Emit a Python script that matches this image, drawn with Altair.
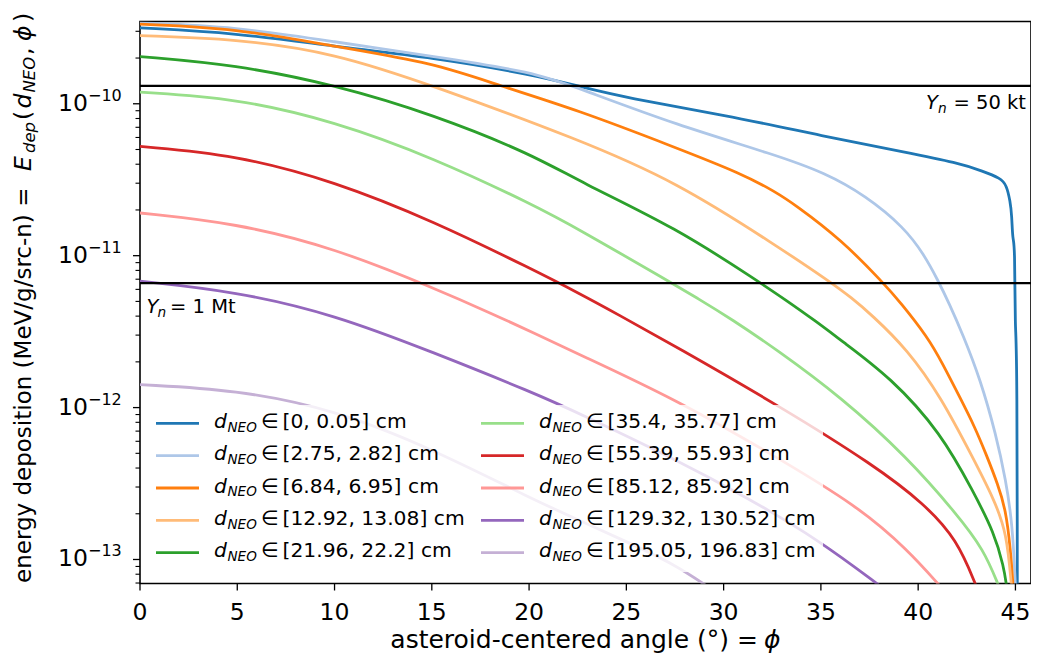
import altair as alt
import pandas as pd

FONT = "DejaVu Sans"

# ---------------- data ----------------
bin_labels = ["[0, 0.05]", "[2.75, 2.82]", "[6.84, 6.95]", "[12.92, 13.08]", "[21.96, 22.2]",
              "[35.4, 35.77]", "[55.39, 55.93]", "[85.12, 85.92]", "[129.32, 130.52]", "[195.05, 196.83]"]
colors = ["#1f77b4", "#aec7e8", "#ff7f0e", "#ffbb78", "#2ca02c",
          "#98df8a", "#d62728", "#ff9896", "#9467bd", "#c5b0d5"]

# asteroid-centered angle (deg) and log10 of energy deposition (MeV/g/src-n)
phi_0 = [0, 4.9, 10, 15.1, 20.2, 22.6, 25, 30, 35.2, 39.45, 42, 43.37, 44.22, 44.54, 44.73, 44.81, 44.86, 44.97, 44.98, 45.09, 45.1]
logE_0 = [-9.5, -9.533, -9.623, -9.697, -9.809, -9.886, -9.961, -10.072, -10.215, -10.322, -10.388, -10.445, -10.49, -10.533, -10.643, -10.73, -10.906, -10.906, -11.539, -11.539, -14]
phi_1 = [0, 4.9, 10, 15.1, 20.2, 22.76, 27.55, 32.65, 35.2, 37.3, 39.3, 40.3, 41.0, 41.6, 42.3, 43.2, 44.0, 44.5, 44.85, 45.0]
logE_1 = [-9.467, -9.493, -9.592, -9.689, -9.789, -9.908, -10.138, -10.336, -10.454, -10.605, -10.816, -10.993, -11.158, -11.316, -11.52, -11.816, -12.178, -12.474, -12.77, -13.18]
phi_2 = [0, 4.9, 10, 15.1, 18.5, 22.45, 27.55, 30.95, 32.65, 33.67, 36.05, 38.2, 39.1, 40.5, 41.2, 42.2, 42.9, 43.5, 44.1, 44.5, 44.75, 44.88]
logE_2 = [-9.476, -9.502, -9.623, -9.73, -9.882, -10.039, -10.289, -10.461, -10.579, -10.664, -10.895, -11.178, -11.309, -11.539, -11.697, -11.947, -12.125, -12.309, -12.507, -12.671, -12.934, -13.18]
phi_3 = [0, 4.9, 10, 15.1, 22.6, 27.55, 32.65, 35.54, 36.56, 37.6, 39.45, 41.16, 42.86, 43.9, 44.55, 44.8]
logE_3 = [-9.551, -9.572, -9.665, -9.882, -10.237, -10.513, -10.928, -11.178, -11.276, -11.388, -11.618, -11.928, -12.342, -12.605, -12.822, -13.18]
phi_4 = [0, 4.9, 10, 15.1, 20.2, 22.6, 27.55, 31.8, 33.16, 34.7, 36.05, 38.6, 41.16, 42.86, 43.9, 44.4, 44.55]
logE_4 = [-9.689, -9.743, -9.875, -10.072, -10.336, -10.513, -10.816, -11.171, -11.289, -11.428, -11.559, -11.803, -12.164, -12.559, -12.822, -13.046, -13.18]
phi_5 = [0, 4.9, 10, 15.1, 20.2, 22.6, 27.2, 28.7, 30.45, 32.65, 36.07, 39.45, 42.0, 43.37, 44.16]
logE_5 = [-9.923, -9.963, -10.116, -10.357, -10.664, -10.829, -11.171, -11.283, -11.421, -11.612, -11.934, -12.329, -12.704, -12.934, -13.18]
phi_6 = [0, 4.9, 10, 15.1, 20.2, 22.6, 24.5, 27.55, 33.0, 37.76, 40.3, 42.0, 43.0]
logE_6 = [-10.281, -10.336, -10.511, -10.774, -11.092, -11.25, -11.382, -11.599, -12.0, -12.382, -12.632, -12.868, -13.18]
phi_7 = [0, 4.9, 10, 15.1, 18.2, 20.2, 22.6, 27.55, 32.65, 36.9, 39.45, 41.16]
logE_7 = [-10.719, -10.785, -10.949, -11.213, -11.388, -11.507, -11.651, -11.947, -12.32, -12.649, -12.934, -13.18]
phi_8 = [0, 4.9, 10, 15.1, 20.2, 22.6, 27.55, 31.2, 34.85, 38.1]
logE_8 = [-11.168, -11.235, -11.388, -11.638, -11.901, -12.039, -12.342, -12.592, -12.868, -13.18]
phi_9 = [0, 4.9, 10, 15.1, 20.2, 22.6, 25, 27.5, 29.2]
logE_9 = [-11.849, -11.882, -12.013, -12.276, -12.605, -12.743, -12.882, -13.033, -13.18]

phis = [phi_0, phi_1, phi_2, phi_3, phi_4, phi_5, phi_6, phi_7, phi_8, phi_9]
logEs = [logE_0, logE_1, logE_2, logE_3, logE_4, logE_5, logE_6, logE_7, logE_8, logE_9]

yield_levels = [1.31e-10, 6.6e-12]          # Y_n = 50 kt, Y_n = 1 Mt
x_ticks = [0, 5, 10, 15, 20, 25, 30, 35, 40, 45]
x_tick_labels = ["0", "5", "10", "15", "20", "25", "30", "35", "40", "45"]
y_decades = [1e-10, 1e-11, 1e-12, 1e-13]
y_exponents = ["\u221210", "\u221211", "\u221212", "\u221213"]
x_domain = [0, 45.8]
y_domain = [6.95e-14, 3.48e-10]

# ---------------- scales ----------------
W, H = 891, 562
x_scale = alt.Scale(domain=x_domain, nice=False, zero=False)
y_scale = alt.Scale(type="log", domain=y_domain, nice=False)
color_scale = alt.Scale(domain=bin_labels, range=colors)

dummy = pd.DataFrame({"a": [0]})
layers = []

# curves
for i, lab in enumerate(bin_labels):
    df_i = pd.DataFrame({"phi": phis[i], "E": [10.0 ** v for v in logEs[i]], "bin": lab})
    layers.append(
        alt.Chart(df_i).mark_line(clip=True, strokeWidth=2.8, interpolate="basis").encode(
            x=alt.X("phi:Q", scale=x_scale, axis=None),
            y=alt.Y("E:Q", scale=y_scale, axis=None),
            color=alt.Color("bin:N", scale=color_scale, legend=None),
        )
    )

# horizontal yield lines
layers.append(
    alt.Chart(pd.DataFrame({"E": yield_levels})).mark_rule(color="black", strokeWidth=2.2).encode(
        y=alt.Y("E:Q", scale=y_scale, axis=None)
    )
)

# x ticks + labels
xt = pd.DataFrame({"t": x_ticks, "lab": x_tick_labels})
layers.append(
    alt.Chart(xt).mark_rule(color="black", strokeWidth=1.3).encode(
        x=alt.X("t:Q", scale=x_scale, axis=None), y=alt.value(H), y2=alt.value(H + 7)
    )
)
layers.append(
    alt.Chart(xt).mark_text(font=FONT, fontSize=23.5, align="center", baseline="alphabetic",
                            color="black").encode(
        x=alt.X("t:Q", scale=x_scale, axis=None), y=alt.value(H + 36.5), text="lab:N"
    )
)

# y major / minor ticks
minor_vals = [m * 10.0 ** d for d in range(-14, -9) for m in range(2, 10)
              if y_domain[0] <= m * 10.0 ** d <= y_domain[1]]
layers.append(
    alt.Chart(pd.DataFrame({"v": minor_vals})).mark_rule(color="black", strokeWidth=1.1).encode(
        y=alt.Y("v:Q", scale=y_scale, axis=None), x=alt.value(-4.5), x2=alt.value(0)
    )
)
ylab = pd.DataFrame({"v": y_decades, "exp": y_exponents})
layers.append(
    alt.Chart(ylab).mark_rule(color="black", strokeWidth=1.3).encode(
        y=alt.Y("v:Q", scale=y_scale, axis=None), x=alt.value(-7), x2=alt.value(0)
    )
)
layers.append(
    alt.Chart(ylab).mark_text(text="10", align="right", baseline="middle", font=FONT, fontSize=23.5,
                              color="black").encode(y=alt.Y("v:Q", scale=y_scale, axis=None), x=alt.value(-52))
)
layers.append(
    alt.Chart(ylab).mark_text(align="left", baseline="middle", font=FONT, fontSize=16, color="black",
                              dy=-8).encode(y=alt.Y("v:Q", scale=y_scale, axis=None), x=alt.value(-52),
                                            text="exp:N")
)


def txt(s, x, y, size, italic=False, align="left", angle=0):
    kw = dict(text=s, font=FONT, fontSize=size, align=align, baseline="alphabetic", color="black")
    if italic:
        kw["fontStyle"] = "italic"
    if angle:
        kw["angle"] = angle
    return alt.Chart(dummy).mark_text(**kw).encode(x=alt.value(x), y=alt.value(y))


# ---------------- legend (semi-transparent box, 2 columns x 5 rows) ----------------
layers.append(
    alt.Chart(dummy).mark_rect(fill="white", fillOpacity=0.8, cornerRadius=4).encode(
        x=alt.value(6), x2=alt.value(683), y=alt.value(383.5), y2=alt.value(550.5)
    )
)
for i, lab in enumerate(bin_labels):
    col, row = divmod(i, 5)
    ox = 325 * col
    hy = 401.8 + 32.35 * row
    layers.append(
        alt.Chart(dummy).mark_rule(color=colors[i], strokeWidth=2.8).encode(
            x=alt.value(16 + ox), x2=alt.value(59 + ox), y=alt.value(hy)
        )
    )
    layers += [
        txt("d", 74 + ox, hy + 4.7, 20.3, italic=True),
        txt("NEO", 87.5 + ox, hy + 8.2, 13.5, italic=True),
        txt("\u2208", 121 + ox, hy + 4.7, 20.3),
        txt(lab + " cm", 142.5 + ox, hy + 4.7, 20.3),
    ]

# ---------------- annotations ----------------
layers += [
    txt("Y", 786, 87.8, 19.5, italic=True),
    txt("n", 798, 91.8, 13.7, italic=True),
    txt("= 50 kt", 813.5, 87.8, 19.5),
    txt("Y", 6.5, 291.8, 19.5, italic=True),
    txt("n", 17.5, 295.8, 13.7, italic=True),
    txt("= 1 Mt", 30, 291.8, 19.5),
]

# x title
layers += [
    txt("asteroid-centered angle (\u00b0) =", 618, 626.5, 25, align="right"),
    txt("\u03d5", 624, 626.5, 25, italic=True),
]

# y title (rotated pieces)
XT = -109
XS = -105.5
layers += [
    txt("energy deposition (MeV/g/src-n) =", XT, 561.5, 23, angle=270),
    txt("E", XT, 149.5, 23.5, italic=True, angle=270),
    txt("dep", XS, 131.5, 16.5, italic=True, angle=270),
    txt("(", XT, 98.5, 23.5, angle=270),
    txt("d", XT, 87, 23.5, italic=True, angle=270),
    txt("NEO", XS, 71, 16.5, italic=True, angle=270),
    txt(",", XT, 33.5, 23.5, angle=270),
    txt("\u03d5", XT, 19.5, 23.5, italic=True, angle=270),
    txt(")", XT, 0.5, 23.5, angle=270),
]

chart = alt.layer(*layers).properties(
    width=W, height=H,
    padding={"left": 132, "top": 13.5, "right": 0, "bottom": 69.5},
    autosize=alt.AutoSizeParams(type="none"),
).configure_view(stroke="black", strokeWidth=1.6)

chart.save("out.html", embed_options={"renderer": "svg", "actions": False})
